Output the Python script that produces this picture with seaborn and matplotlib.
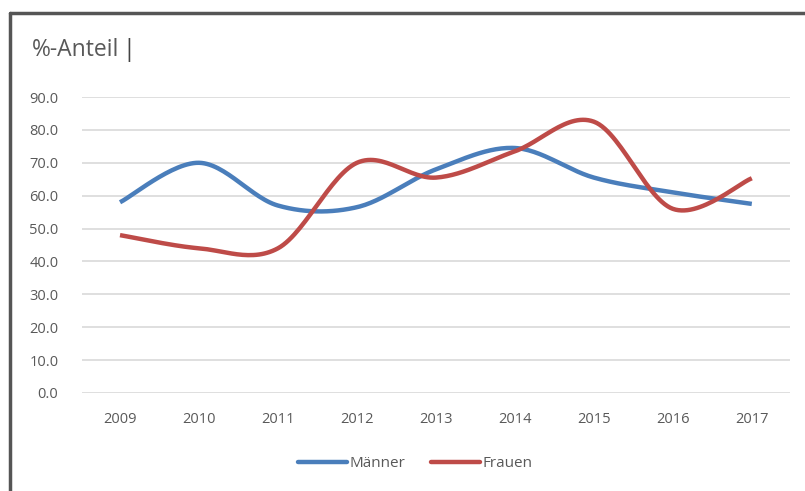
import numpy as np
import pandas as pd
import matplotlib
matplotlib.use("Agg")
import matplotlib.pyplot as plt
import seaborn as sns
from matplotlib.lines import Line2D

# data
years = ["2009", "2010", "2011", "2012", "2013", "2014", "2015", "2016", "2017"]
maenner = [58.0, 70.0, 57.0, 56.5, 68.0, 74.5, 65.5, 61.0, 57.5]
frauen = [48.0, 44.0, 44.0, 70.0, 65.5, 73.5, 82.5, 56.0, 65.3]
yticks = [0, 10, 20, 30, 40, 50, 60, 70, 80, 90]

blue = "#4A7EBB"
red = "#BE4B48"
grey = "#595959"


def smooth(xs, ys, n=30):
    # Excel-style smoothed line (Catmull-Rom -> cubic bezier segments)
    xs = np.asarray(xs, float)
    ys = np.asarray(ys, float)
    px = np.concatenate([[xs[0]], xs, [xs[-1]]])
    py = np.concatenate([[ys[0]], ys, [ys[-1]]])
    outx, outy = [], []
    t = np.linspace(0, 1, n)
    for i in range(1, len(px) - 2):
        p0 = np.array([px[i], py[i]])
        p3 = np.array([px[i + 1], py[i + 1]])
        c1 = p0 + (np.array([px[i + 1], py[i + 1]]) - np.array([px[i - 1], py[i - 1]])) / 6
        c2 = p3 - (np.array([px[i + 2], py[i + 2]]) - np.array([px[i], py[i]])) / 6
        b = ((1 - t) ** 3)[:, None] * p0 + (3 * (1 - t) ** 2 * t)[:, None] * c1 \
            + (3 * (1 - t) * t ** 2)[:, None] * c2 + (t ** 3)[:, None] * p3
        outx.extend(b[:, 0])
        outy.extend(b[:, 1])
    return np.array(outx), np.array(outy)


sns.set_style("white")
plt.rcParams["font.family"] = ["Open Sans", "DejaVu Sans"]

fig = plt.figure(figsize=(8.05, 4.91), dpi=100)
ax = fig.add_axes([0.102, 0.1996, 0.879, 0.6028])

idx = np.arange(len(years))
rows = []
for name, vals in [("Männer", maenner), ("Frauen", frauen)]:
    sx, sy = smooth(idx, vals)
    rows.append(pd.DataFrame({"x": sx, "y": sy, "serie": name}))
df = pd.concat(rows, ignore_index=True)

sns.lineplot(data=df, x="x", y="y", hue="serie", palette={"Männer": blue, "Frauen": red},
             linewidth=3.2, sort=False, estimator=None, legend=False, ax=ax, zorder=3)
for l in ax.lines:
    l.set_solid_capstyle("butt")

ax.set_xlim(-0.48, 8.48)
ax.set_ylim(0, 90)
ax.set_yticks(yticks)
ax.set_yticklabels([f"{v:.1f}" for v in yticks])
ax.set_xticks(idx)
ax.set_xticklabels(years)
ax.tick_params(axis="both", length=0, labelsize=10.5, colors=grey)
ax.tick_params(axis="y", pad=17)
ax.tick_params(axis="x", pad=14)
ax.set_xlabel("")
ax.set_ylabel("")
ax.grid(axis="y", color="#D9D9D9", linewidth=1.2)
for s in ax.spines.values():
    s.set_visible(False)

handles = [Line2D([], [], color=blue, lw=3.2), Line2D([], [], color=red, lw=3.2)]
fig.legend(handles, ["Männer", "Frauen"], loc="center", bbox_to_anchor=(0.516, 0.055),
           ncol=2, frameon=False, fontsize=11, labelcolor=grey, handlelength=3.2,
           handletextpad=0.15, columnspacing=1.7)

fig.text(0.040, 0.898, "%-Anteil", fontsize=16.5, color=grey, va="center", ha="left")
fig.text(0.152, 0.898, "|", fontsize=17, color="#444444", va="center", ha="left")

# frame of the chart object
fig.add_artist(Line2D([0.012, 1.0], [0.973, 0.973], color="#555555", lw=2.5, transform=fig.transFigure))
fig.add_artist(Line2D([0.0125, 0.0125], [0.0, 0.973], color="#555555", lw=2.5, transform=fig.transFigure))

fig.savefig("out.png", dpi=100)
